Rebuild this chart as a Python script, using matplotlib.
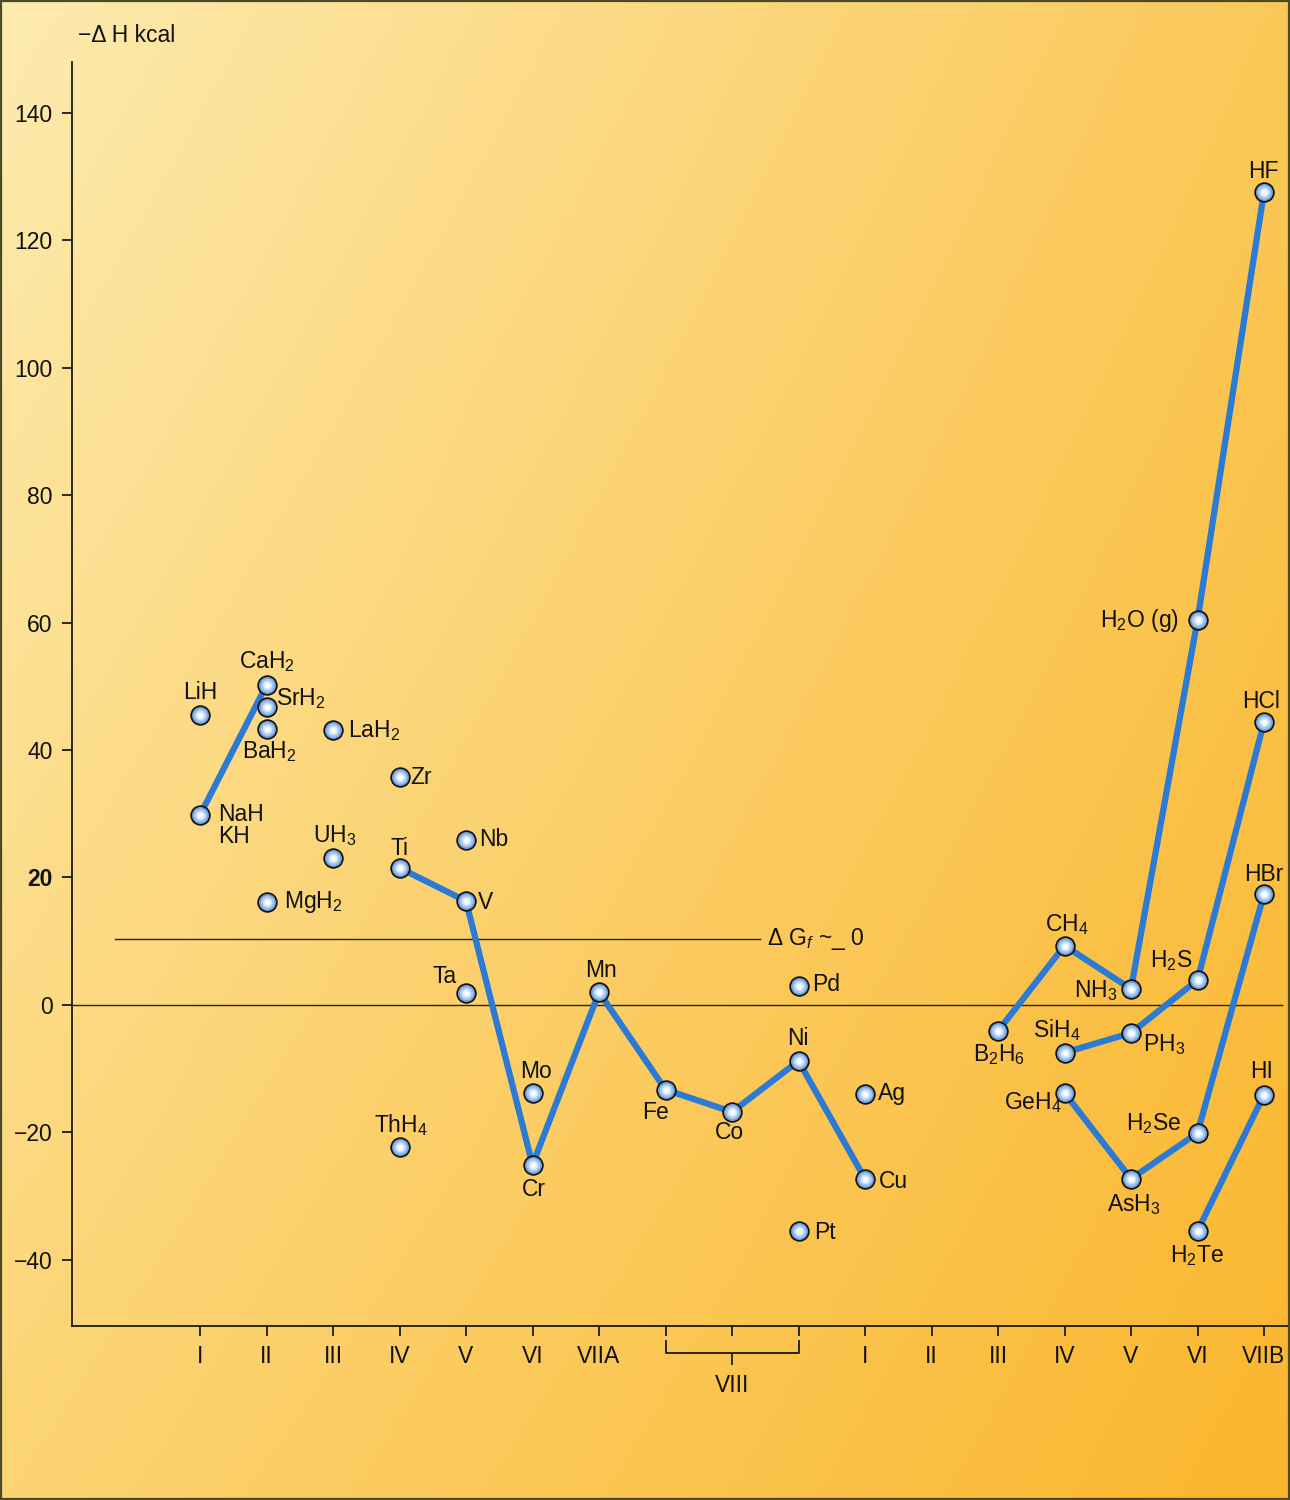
import numpy as np
import matplotlib
matplotlib.use("Agg")
import matplotlib.pyplot as plt
from matplotlib.patches import Rectangle

plt.rcParams['font.family'] = ['Liberation Sans', 'DejaVu Sans']
plt.rcParams['mathtext.fontset'] = 'custom'
plt.rcParams['mathtext.rm'] = 'Liberation Sans'
plt.rcParams['mathtext.it'] = 'Liberation Sans:italic'
plt.rcParams['mathtext.bf'] = 'Liberation Sans:bold'

# ---------------- data ----------------
group_labels = ['I', 'II', 'III', 'IV', 'V', 'VI', 'VIIA', '', '', '',
                'I', 'II', 'III', 'IV', 'V', 'VI', 'VIIB']
group_bracket_label = 'VIII'

compounds = ['LiH', 'NaH', 'CaH2', 'SrH2', 'BaH2', 'MgH2', 'LaH2', 'UH3',
             'Zr', 'Ti', 'ThH4', 'Nb', 'V', 'Ta', 'Mo', 'Cr', 'Mn',
             'Fe', 'Co', 'Ni', 'Pd', 'Pt', 'Ag', 'Cu',
             'B2H6', 'CH4', 'NH3', 'SiH4', 'PH3', 'H2S', 'GeH4', 'AsH3',
             'H2Se', 'H2Te', 'H2O', 'HF', 'HCl', 'HBr', 'HI']
group_pos = [0, 0, 1, 1, 1, 1, 2, 2,
             3, 3, 3, 4, 4, 4, 5, 5, 6,
             7, 8, 9, 9, 9, 10, 10,
             12, 13, 14, 13, 14, 15, 13, 14,
             15, 15, 15, 16, 16, 16, 16]
minus_dH = [45.5, 29.8, 50.2, 46.8, 43.3, 16.2, 43.2, 23.1,
            35.8, 21.5, -22.3, 25.9, 16.3, 1.9, -13.8, -25.1, 2.0,
            -13.3, -16.8, -8.8, 3.0, -35.5, -14.0, -27.3,
            -4.1, 9.3, 2.5, -7.5, -4.4, 3.9, -13.8, -27.3,
            -20.1, -35.5, 60.4, 127.6, 44.4, 17.4, -14.1]

series_lines = [
    ['NaH', 'CaH2'],
    ['Ti', 'V', 'Cr', 'Mn', 'Fe', 'Co', 'Ni', 'Cu'],
    ['B2H6', 'CH4', 'NH3', 'H2O', 'HF'],
    ['SiH4', 'PH3', 'H2S', 'HCl'],
    ['GeH4', 'AsH3', 'H2Se', 'HBr'],
    ['H2Te', 'HI'],
]

dG_level = 10.4
y_ticks = [-40, -20, 0, 20, 40, 60, 80, 100, 120, 140]

# ---------------- styles ----------------
FS = 16.5
display_name = {
    'LiH': 'LiH', 'NaH': 'NaH', 'CaH2': 'CaH$_2$', 'SrH2': 'SrH$_2$',
    'BaH2': 'BaH$_2$', 'MgH2': 'MgH$_2$', 'LaH2': 'LaH$_2$', 'UH3': 'UH$_3$',
    'ThH4': 'ThH$_4$', 'B2H6': 'B$_2$H$_6$', 'CH4': 'CH$_4$', 'NH3': 'NH$_3$',
    'SiH4': 'SiH$_4$', 'PH3': 'PH$_3$', 'H2S': 'H$_2$S', 'GeH4': 'GeH$_4$',
    'AsH3': 'AsH$_3$', 'H2Se': 'H$_2$Se', 'H2Te': 'H$_2$Te', 'H2O': 'H$_2$O (g)',
}
# label placement: (dx px, dy px, ha)
label_style = {
    'LiH': (0, 23, 'center'), 'CaH2': (0, 24, 'center'), 'SrH2': (9, 8, 'left'),
    'BaH2': (3, -23, 'center'), 'NaH': (18, 1, 'left'), 'MgH2': (17, 0, 'left'),
    'LaH2': (15, -1, 'left'), 'UH3': (2, 22, 'center'), 'Zr': (11, -1, 'left'),
    'Ti': (0, 19, 'center'), 'ThH4': (1, 22, 'center'), 'Nb': (13, 0, 'left'),
    'V': (12, -1, 'left'), 'Ta': (-9, 16, 'right'), 'Mo': (4, 21, 'center'),
    'Cr': (1, -25, 'center'), 'Mn': (2, 22, 'center'), 'Fe': (-10, -23, 'center'),
    'Co': (-3, -21, 'center'), 'Ni': (-1, 22, 'center'), 'Pd': (14, 1, 'left'),
    'Pt': (16, -1, 'left'), 'Ag': (13, 1, 'left'), 'Cu': (14, -3, 'left'),
    'B2H6': (1, -24, 'center'), 'CH4': (2, 21, 'center'), 'NH3': (-14, -2, 'right'),
    'SiH4': (-8, 23, 'center'), 'PH3': (12, -12, 'left'), 'H2S': (-5, 20, 'right'),
    'GeH4': (-3, -10, 'right'), 'AsH3': (3, -26, 'center'), 'H2Se': (-16, 9, 'right'),
    'H2Te': (0, -24, 'center'), 'HI': (-2, 23, 'center'), 'HBr': (0, 20, 'center'),
    'HCl': (-3, 21, 'center'), 'HF': (-1, 20, 'center'), 'H2O': (-19, 0, 'right'),
}

W, H = 1290, 1500
fig = plt.figure(figsize=(W / 100, H / 100), dpi=100)

# background gradient
bg = fig.add_axes([0, 0, 1, 1], zorder=-10)
bg.set_axis_off()
yy, xx = np.mgrid[0:1:300j, 0:1:260j]
TL = np.array([253, 235, 175]) / 255
TR = np.array([251, 200, 88]) / 255
BL = np.array([252, 212, 115]) / 255
BR = np.array([250, 182, 45]) / 255
img = (TL[None, None] * ((1 - xx) * (1 - yy))[..., None]
       + TR[None, None] * (xx * (1 - yy))[..., None]
       + BL[None, None] * ((1 - xx) * yy)[..., None]
       + BR[None, None] * (xx * yy)[..., None])
bg.imshow(np.clip(img, 0, 1), extent=[0, 1, 0, 1], aspect='auto', origin='upper')
bg.set_xlim(0, 1)
bg.set_ylim(0, 1)
fig.patches.append(Rectangle((0.0008, 0.0008), 0.9984, 0.9984, transform=fig.transFigure,
                             fill=False, edgecolor='#4a4a2a', linewidth=1.6))

# main axes
left_px, right_px, top_px, bot_px = 72, 1290, 62, 1326
ax = fig.add_axes([left_px / W, 1 - bot_px / H, (right_px - left_px) / W, (bot_px - top_px) / H])
ax.set_facecolor('none')
x0_px, dx_px = 200, 66.5
ax.set_xlim((left_px - x0_px) / dx_px, (right_px - x0_px) / dx_px)
ax.set_ylim(-50.4, 148.0)
for s in ['top', 'right']:
    ax.spines[s].set_visible(False)
for s in ['left', 'bottom']:
    ax.spines[s].set_color('#1a1a1a')
    ax.spines[s].set_linewidth(1.3)

ax.set_yticks(y_ticks)
ax.set_yticklabels([f'\u2212{abs(v)}' if v < 0 else str(v) for v in y_ticks])
for lab in ax.get_yticklabels():
    if lab.get_text() == '20':
        lab.set_fontweight('bold')
ax.set_xticks(range(len(group_labels)))
ax.set_xticklabels(group_labels)
ax.tick_params(axis='both', direction='out', length=7, width=1.3, color='#1a1a1a',
               labelsize=FS, labelcolor='#111111')
ax.tick_params(axis='y', pad=7)
ax.tick_params(axis='x', pad=7)

# reference lines
ax.plot([ax.get_xlim()[0], (1282 - x0_px) / dx_px], [0, 0], color='#222222', lw=1.0, zorder=1)
ax.plot([(115 - x0_px) / dx_px, (760 - x0_px) / dx_px], [dG_level, dG_level],
        color='#222222', lw=1.0, zorder=1)
ax.text((767 - x0_px) / dx_px, dG_level, 'Δ G$_f$ ~_ 0', fontsize=FS, ha='left', va='center',
        color='#111111')

# bracket for VIII
ax_h = bot_px - top_px
def ay(px):
    return -(px - bot_px) / ax_h
tr = ax.get_xaxis_transform()
kw = dict(transform=tr, color='#1a1a1a', lw=1.3, clip_on=False)
ax.plot([7, 7, 9, 9], [ay(1341), ay(1353), ay(1353), ay(1341)], **kw)
ax.plot([8, 8], [ay(1353), ay(1364)], **kw)
ax.text(8, ay(1385), group_bracket_label, transform=tr, ha='center', va='center',
        fontsize=FS, color='#111111', clip_on=False)

# data lookup
pos = dict(zip(compounds, group_pos))
val = dict(zip(compounds, minus_dH))

line_color = '#2a7ad6'
for chain in series_lines:
    ax.plot([pos[c] for c in chain], [val[c] for c in chain], color=line_color,
            lw=4.5, solid_capstyle='round', solid_joinstyle='round', zorder=3)

xs = np.array(group_pos, dtype=float)
ys = np.array(minus_dH)
ax.plot(xs, ys, 'o', ms=13.5, mfc='#6a9ad8', mec='#111111', mew=1.2, zorder=4)
ax.plot(xs, ys, 'o', ms=10, mfc='#a6c6ee', mec='none', zorder=5)
ax.plot(xs, ys, 'o', ms=6.5, mfc='#dcebfb', mec='none', zorder=6)
ax.plot(xs, ys, 'o', ms=3.5, mfc='#ffffff', mec='none', zorder=7)

pt = 0.72  # pt per px
for c in compounds:
    dx, dy, ha = label_style[c]
    ax.annotate(display_name.get(c, c), (pos[c], val[c]), xytext=(dx * pt, dy * pt),
                textcoords='offset points', ha=ha, va='center', fontsize=FS,
                color='#111111', zorder=8)
# KH shares the NaH point
ax.annotate('KH', (pos['NaH'], val['NaH']), xytext=(18 * pt, -21 * pt),
            textcoords='offset points', ha='left', va='center', fontsize=FS,
            color='#111111', zorder=8)

fig.text(78 / W, 1 - 36 / H, '\u2212Δ H kcal', ha='left', va='center', fontsize=FS,
         color='#111111')

fig.savefig('out.png', dpi=100)
